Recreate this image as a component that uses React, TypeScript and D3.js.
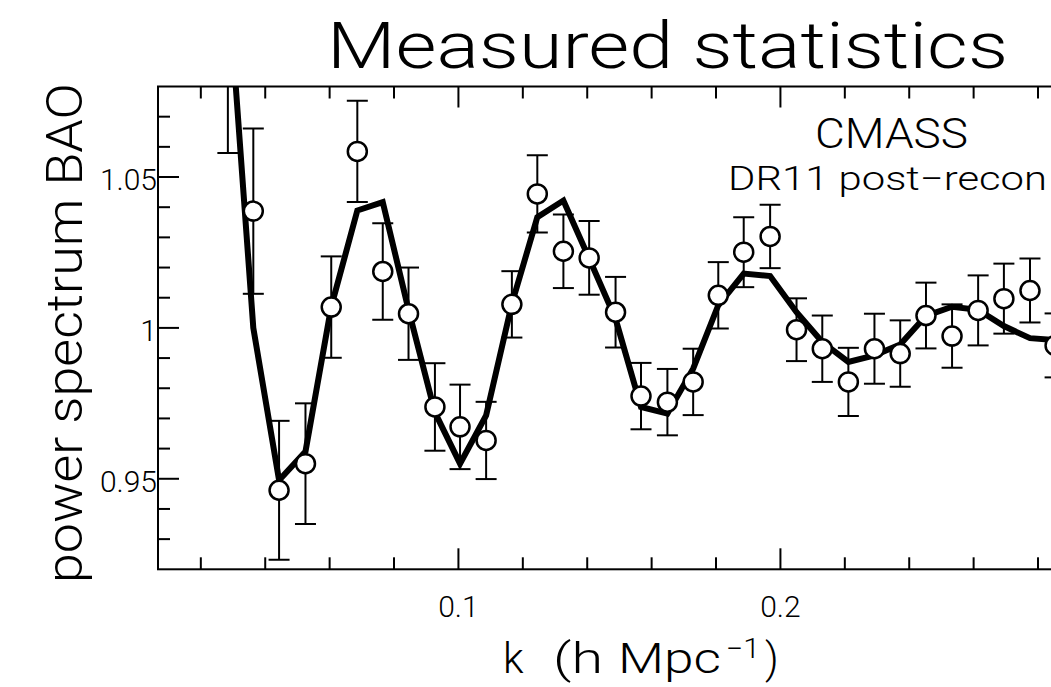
import React from "react";
import * as d3 from "d3";

// wavenumber k (h/Mpc) of each measured band
const kValues = [0.0284, 0.0363, 0.0443, 0.0525, 0.0605, 0.0686, 0.0765, 0.0845, 0.0927, 0.1005, 0.1086, 0.1166, 0.1245, 0.1326, 0.1406, 0.1488, 0.1567, 0.1649, 0.1729, 0.1807, 0.1886, 0.1968, 0.2050, 0.2130, 0.2211, 0.2292, 0.2372, 0.2452, 0.2533, 0.2614, 0.2694, 0.2775, 0.2853];
// measured BAO power spectrum ratio
const measured = [1.088, 1.0387, 0.9462, 0.955, 1.0069, 1.0585, 1.0187, 1.0047, 0.9738, 0.9672, 0.9627, 1.0078, 1.0444, 1.0254, 1.0232, 1.0052, 0.9774, 0.9754, 0.9821, 1.0108, 1.0251, 1.0303, 0.9994, 0.9931, 0.9821, 0.9931, 0.9915, 1.0041, 0.9973, 1.0058, 1.0097, 1.0124, 0.9942];
// 1-sigma errors
const errors = [0.030, 0.0274, 0.023, 0.020, 0.0168, 0.0168, 0.016, 0.0153, 0.0145, 0.014, 0.0128, 0.011, 0.0128, 0.0122, 0.0122, 0.0117, 0.011, 0.011, 0.011, 0.011, 0.0116, 0.0105, 0.0104, 0.011, 0.0113, 0.0116, 0.011, 0.0109, 0.0105, 0.0116, 0.0116, 0.0106, 0.0106];
// best-fit model
const model = [1.116, 1.0, 0.9495, 0.959, 1.007, 1.0389, 1.0417, 1.006, 0.972, 0.955, 0.971, 1.008, 1.0367, 1.0422, 1.023, 1.003, 0.9738, 0.9716, 0.9865, 1.0075, 1.018, 1.0172, 1.0052, 0.9953, 0.9887, 0.9909, 0.9945, 1.004, 1.007, 1.006, 1.0006, 0.9966, 0.996];

const xMinorTicks = [0.02, 0.04, 0.06, 0.08, 0.1, 0.12, 0.14, 0.16, 0.18, 0.2, 0.22, 0.24, 0.26, 0.28];
const xMajorTicks = [0.1, 0.2];
const xTickLabels = ["0.1", "0.2"];
const yMinorTicks = [0.93, 0.94, 0.95, 0.96, 0.97, 0.98, 0.99, 1.0, 1.01, 1.02, 1.03, 1.04, 1.05, 1.06, 1.07];
const yMajorTicks = [0.95, 1.0, 1.05];
const yTickLabels = ["0.95", "1", "1.05"];

const title = "Measured statistics";
const yLabel = "power spectrum BAO";
const annot1 = "CMASS";
const annot2 = "DR11 post\u2212recon";

const W = 1051;
const H = 687;
const left = 158;
const top = 86.5;
const bottom = 569.3;
const xDomain = [0.0067, 0.3];
const right = left + (xDomain[1] - xDomain[0]) * 3220;

export default function App() {
  const x = d3.scaleLinear().domain(xDomain).range([left, right]);
  const y = d3.scaleLinear().domain([0.92, 1.08]).range([bottom, top]);
  const pts = kValues.map((k, i) => ({ k, v: measured[i], e: errors[i], m: model[i] }));
  const line = d3
    .line<any>()
    .x((d) => x(d.k))
    .y((d) => y(d.m));
  const font = "Roboto, 'Liberation Sans', Arial, sans-serif";
  const sw = 2;
  const minorLen = 12;
  const majorLen = 21;
  const isMajorX = (t: number) => xMajorTicks.some((m) => Math.abs(m - t) < 1e-9);
  const isMajorY = (t: number) => yMajorTicks.some((m) => Math.abs(m - t) < 1e-9);
  const cap = 10.5;

  return (
    <svg
      width={W}
      height={H}
      style={{ position: "absolute", left: 0, top: 0, background: "#fff" }}
    >
      <defs>
        <clipPath id="plot">
          <rect x={left} y={top} width={right - left} height={bottom - top} />
        </clipPath>
      </defs>
      <rect x={0} y={0} width={W} height={H} fill="#fff" />

      {/* title */}
      <text
        x={327}
        y={68}
        fontFamily={font}
        fontWeight={300}
        fontSize={64}
        textLength={681}
        lengthAdjust="spacingAndGlyphs"
        fill="#000"
      >
        {title}
      </text>

      {/* data */}
      <g clipPath="url(#plot)">
        <path d={line(pts) || ""} fill="none" stroke="#000" strokeWidth={6} strokeLinejoin="miter" />
        {pts.map((p, i) => (
          <g key={"e" + i} stroke="#000" strokeWidth={2}>
            <line x1={x(p.k)} x2={x(p.k)} y1={y(p.v - p.e)} y2={y(p.v + p.e)} />
            <line x1={x(p.k) - cap} x2={x(p.k) + cap} y1={y(p.v - p.e)} y2={y(p.v - p.e)} />
            <line x1={x(p.k) - cap} x2={x(p.k) + cap} y1={y(p.v + p.e)} y2={y(p.v + p.e)} />
          </g>
        ))}
        {pts.map((p, i) => (
          <circle key={"c" + i} cx={x(p.k)} cy={y(p.v)} r={9.5} fill="#fff" stroke="#000" strokeWidth={2.5} />
        ))}
      </g>

      {/* frame */}
      <rect x={left} y={top} width={right - left} height={bottom - top} fill="none" stroke="#000" strokeWidth={sw} />

      {/* x ticks */}
      {xMinorTicks.map((t, i) => {
        const len = isMajorX(t) ? majorLen : minorLen;
        return (
          <g key={"xt" + i} stroke="#000" strokeWidth={sw}>
            <line x1={x(t)} x2={x(t)} y1={bottom} y2={bottom - len} />
            <line x1={x(t)} x2={x(t)} y1={top} y2={top + len} />
          </g>
        );
      })}
      {/* y ticks */}
      {yMinorTicks.map((t, i) => {
        const len = isMajorY(t) ? majorLen : minorLen;
        return (
          <g key={"yt" + i} stroke="#000" strokeWidth={sw}>
            <line x1={left} x2={left + len} y1={y(t)} y2={y(t)} />
            <line x1={right} x2={right - len} y1={y(t)} y2={y(t)} />
          </g>
        );
      })}

      {/* tick labels */}
      {xMajorTicks.map((t, i) => (
        <text key={"xl" + i} x={x(t)} y={617} textAnchor="middle" fontFamily={font} fontWeight={300} fontSize={30} fill="#000">
          {xTickLabels[i]}
        </text>
      ))}
      {yMajorTicks.map((t, i) => (
        <text key={"yl" + i} x={157} y={y(t) + 13} textAnchor="end" fontFamily={font} fontWeight={300} fontSize={30} fill="#000">
          {yTickLabels[i]}
        </text>
      ))}

      {/* axis labels */}
      <text
        transform="translate(82,333) rotate(-90)"
        textAnchor="middle"
        fontFamily={font}
        fontWeight={300}
        fontSize={50}
        textLength={500}
        lengthAdjust="spacingAndGlyphs"
        fill="#000"
      >
        {yLabel}
      </text>
      <text y={673} fontFamily={font} fontWeight={300} fontSize={42} fill="#000">
        <tspan x={503}>k</tspan>
        <tspan x={553} textLength={50} lengthAdjust="spacingAndGlyphs">(h</tspan>
        <tspan x={618} textLength={103} lengthAdjust="spacingAndGlyphs">Mpc</tspan>
        <tspan x={726} dy={-15} fontSize={27} textLength={34} lengthAdjust="spacingAndGlyphs">{"\u22121"}</tspan>
        <tspan x={765} dy={15}>{")"}</tspan>
      </text>

      {/* annotations */}
      <text x={815} y={148} fontFamily={font} fontWeight={300} fontSize={43} textLength={153} lengthAdjust="spacingAndGlyphs" fill="#000">
        {annot1}
      </text>
      <text x={728} y={190} fontFamily={font} fontWeight={300} fontSize={33} textLength={319} lengthAdjust="spacingAndGlyphs" fill="#000">
        {annot2}
      </text>
    </svg>
  );
}
